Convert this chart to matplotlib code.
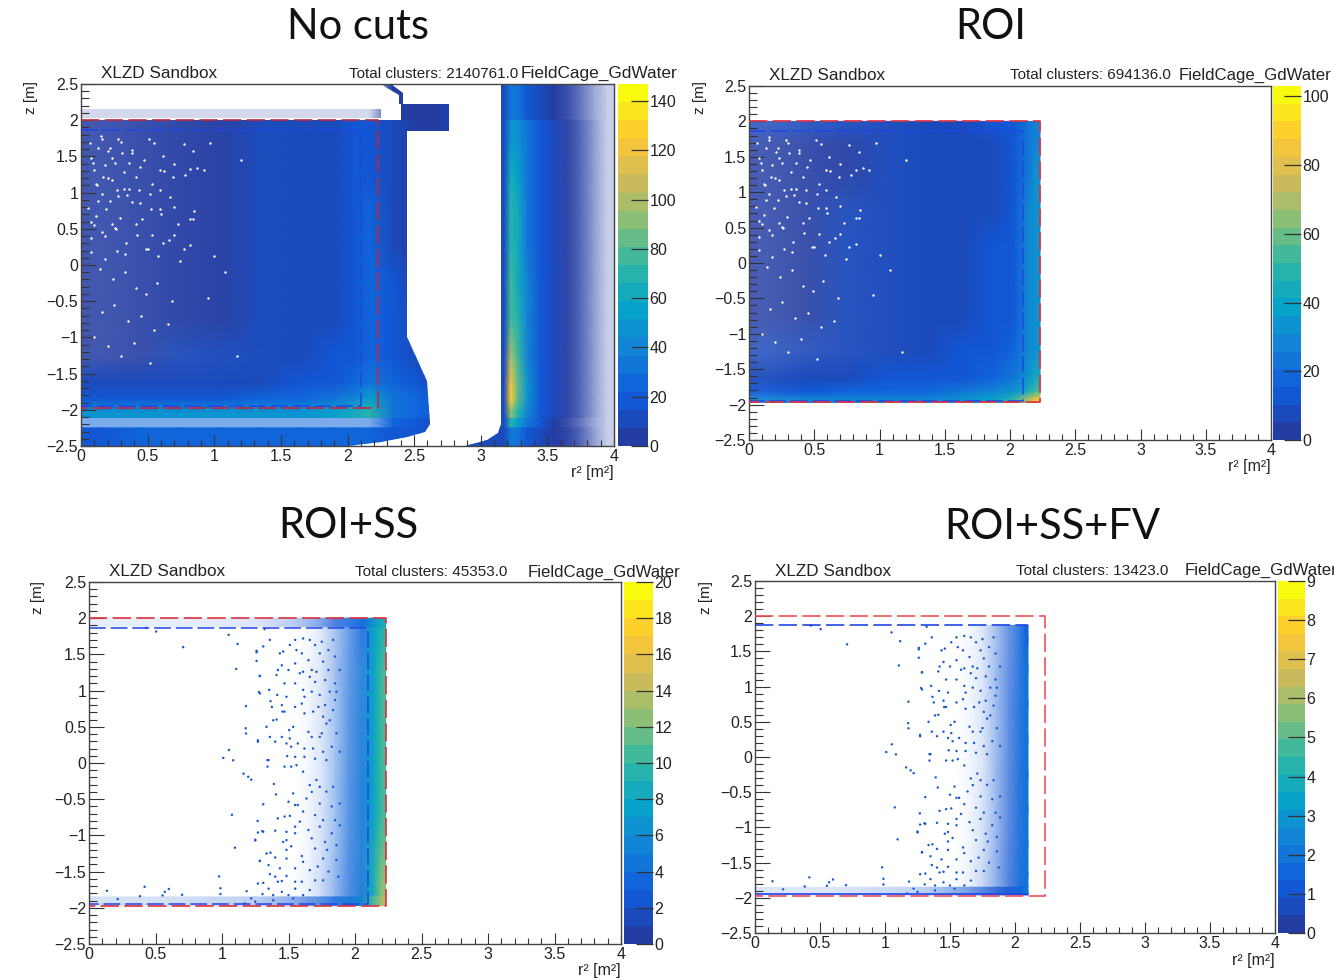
import numpy as np
import matplotlib
matplotlib.use("Agg")
import matplotlib.pyplot as plt
from matplotlib.colors import LinearSegmentedColormap, Normalize
from matplotlib.cm import ScalarMappable
from matplotlib.path import Path
from matplotlib.patches import PathPatch

W, H = 1334, 980
plt.rcParams['font.family'] = ['Liberation Sans', 'DejaVu Sans']
n = np.nan

titles = ["No cuts", "ROI", "ROI+SS", "ROI+SS+FV"]
cluster_texts = ["Total clusters: 2140761.0", "Total clusters: 694136.0",
                 "Total clusters: 45353.0", "Total clusters: 13423.0"]
color_max = [147, 103, 20, 9]
color_ticks = [list(range(0, 141, 20)), list(range(0, 101, 20)),
               list(range(0, 21, 2)), list(range(0, 10))]
x_ticks = [0, .5, 1, 1.5, 2, 2.5, 3, 3.5, 4]
x_labels = ["0", "0.5", "1", "1.5", "2", "2.5", "3", "3.5", "4"]
z_ticks = [-2.5, -2, -1.5, -1, -.5, 0, .5, 1, 1.5, 2, 2.5]
z_labels = ["\u22122.5", "\u22122", "\u22121.5", "\u22121", "\u22120.5", "0", "0.5", "1", "1.5", "2", "2.5"]

# ---- No cuts -----
r1 = [0, .3, .6, .9, 1.2, 1.5, 1.8, 2.0, 2.1, 2.23, 2.45, 2.62, 2.76, 3.15, 3.2, 3.25, 3.3, 3.4, 3.5, 3.6, 3.7, 3.8, 3.9, 4]
z1 = [2.5, 2, 1.5, 1, .5, 0, -.5, -1, -1.5, -1.75, -1.95, -2.12, -2.25, -2.5]
c1 = [
 [3, 3, 3, 3, 3, 3, 3, 3, 3, 6, 7, 6, n, 8, 35, 35, 22, 12, 7, 4, 3, 2, 1],
 [6, 6, 6, 7, 8, 9, 11, 16, 22, 14, 7, 7, n, 8, 45, 50, 32, 16, 8, 4, 3, 2, 1],
 [6, 6, 6, 7, 8, 9, 11, 15, 22, 14, 7, 7, n, 9, 62, 58, 35, 18, 9, 5, 3, 2, 1],
 [6, 6, 7, 7, 8, 9, 11, 15, 23, 14, 7, 7, n, 9, 72, 62, 36, 18, 9, 5, 3, 2, 1],
 [6, 6, 7, 7, 8, 9, 12, 15, 23, 14, 7, 7, n, 9, 70, 62, 36, 18, 9, 5, 3, 2, 1],
 [6, 6, 7, 7, 8, 9, 12, 16, 23, 15, 7, 7, n, 9, 75, 65, 38, 18, 9, 5, 3, 2, 1],
 [6, 6, 7, 7, 8, 10, 12, 17, 24, 16, 8, 7, n, 9, 80, 68, 40, 18, 9, 5, 3, 2, 1],
 [7, 7, 8, 9, 10, 12, 15, 20, 26, 20, 12, 7, n, 10, 100, 75, 42, 20, 9, 5, 3, 2, 1],
 [10, 10, 11, 12, 14, 16, 20, 26, 32, 24, 18, 7, n, 10, 120, 85, 45, 20, 9, 5, 3, 2, 1],
 [20, 20, 21, 22, 24, 28, 34, 42, 55, 30, 24, 18, n, 10, 125, 85, 45, 20, 9, 5, 3, 2, 1],
 [45, 45, 45, 46, 48, 50, 55, 60, 70, 30, 24, 18, n, 10, 95, 70, 38, 18, 8, 5, 3, 2, 1],
 [25, 25, 25, 25, 25, 25, 25, 25, 25, 25, 20, n, n, 10, 70, 55, 30, 15, 7, 4, 2, 2, 1],
 [22, 24, 24, 24, 24, 24, 25, 25, 25, 20, 15, n, n, 8, 30, 30, 18, 10, 5, 3, 2, 1, 1],
]
occ1_top = [.2, .2, .2, .2, .2, .2, .2, .2, .2, 1, 1, 1, 1, 1, 1, 1, 1, 1, 1, .9, .7, .45, .25]
occ1_body = [.86, .9, .94, .97, .99, 1, 1, 1, 1, 1, 1, 1, 1, 1, 1, 1, 1, 1, 1, .95, .78, .5, .25]
occ1_low = [1, 1, 1, 1, 1, 1, 1, 1, 1, 1, 1, 1, 1, 1, 1, 1, 1, 1, 1, .95, .78, .5, .25]
occ1_gap = [.55, .55, .55, .55, .55, .55, .55, .55, .55, 1, 1, 1, 1, 1, 1, 1, 1, 1, 1, .9, .7, .45, .25]
occ1 = [occ1_top] + [occ1_body] * 7 + [occ1_low] * 3 + [occ1_gap, occ1_low]
body_r = [0, 2.4, 2.4, 2.76, 2.76, 2.45, 2.45, 2.6, 2.62, 2.58, 2.45, 2.25, 2.0, 0, 0]
body_z = [2.0, 2.0, 2.22, 2.22, 1.85, 1.85, -1.0, -1.6, -2.2, -2.3, -2.38, -2.45, -2.5, -2.5, 2.0]
neck_r = [2.25, 2.33, 2.42, 2.42, 2.39, 2.39, 2.3, 2.25]
neck_z = [2.5, 2.5, 2.38, 2.22, 2.22, 2.35, 2.44, 2.5]
band_r = [0, 2.25, 2.25, 0, 0]
band_z = [2.03, 2.03, 2.15, 2.15, 2.03]
outer_r = [3.15, 4, 4, 2.88, 3.05, 3.13, 3.15, 3.15]
outer_z = [2.5, 2.5, -2.5, -2.5, -2.42, -2.32, -2.2, 2.5]

# ---- ROI -----
r2 = [0, .3, .6, .9, 1.2, 1.5, 1.8, 1.95, 2.1, 2.17, 2.23]
z2 = [2, 1.87, 1.5, 1, .5, 0, -.5, -1, -1.5, -1.75, -1.88, -1.97]
c2 = [
 [6, 6, 6, 7, 8, 9, 11, 14, 22, 28],
 [5, 5, 5, 6, 7, 8, 10, 13, 25, 30],
 [5, 5, 5, 6, 7, 8, 10, 13, 25, 32],
 [5, 5, 6, 6, 7, 8, 10, 14, 26, 33],
 [5, 5, 6, 6, 7, 8, 11, 14, 26, 33],
 [5, 5, 6, 6, 7, 9, 11, 15, 27, 34],
 [5, 5, 6, 7, 8, 9, 12, 15, 27, 34],
 [6, 6, 7, 8, 9, 11, 14, 18, 28, 36],
 [9, 9, 10, 11, 12, 14, 18, 24, 34, 42],
 [15, 15, 16, 17, 19, 22, 26, 32, 45, 55],
 [26, 26, 27, 28, 30, 34, 40, 50, 72, 85],
]
occ2_body = [.84, .9, .94, .97, 1, 1, 1, 1, 1, 1]
occ2_low = [.95, 1, 1, 1, 1, 1, 1, 1, 1, 1]
occ2 = [occ2_body] * 8 + [occ2_low] * 3

# white holes visible in the two dense panels (r2, z)
hole_r = [.82, .15, .22, .3, .38, .47, .55, .62, .7, .78, .12, .2, .28, .36, .44, .52, .6, .7, .85, .1, .18, .26, .34, .42, .5, .58,
          .66, .74, 1.0, 1.08, .14, .24, .33, .41, .49, .57, .68, .95, .16, .25, .35, .45, .55, .65, 1.17, .1, .2, .3, .4, .52,
          .077, .09, .10, .155, .205, .255, .32, .345, .84, .82, .84, .77, .70, .525, .59, .445, .155, .13, .23, .255, .155, .077,
          .18, .33, .485, .615, .73, .065, .13, .28, .385, .51, .615, .69, .535, .41, .23, .115, .05, .19, .295, .41, .46, .077, .27,
          .535, .665, .385, .59, .92, .87, 1.20, .77, .82, .97, .18, .23, .305, .36, .165, .27, .22, .32, .435, .59, .077, .115]
hole_z = [.64, 1.78, 1.62, 1.7, 1.55, 1.45, 1.68, 1.3, 1.4, 1.25, 1.1, 1.2, .95, 1.05, .85, .98, .7, .8, .75, .55, .4, .5, .3, .42, .22, .12,
          .35, .05, .12, -.1, -.05, -.2, -.1, -.32, -.4, -.25, -.5, -.45, -.65, -.55, -.78, -.7, -.9, -.82, -1.25, -1, -1.12, -1.25, -1.08, -1.35,
          1.48, 1.41, 1.31, 1.74, 1.57, 1.41, 1.29, .96, .64, 1.32, 1.57, 1.67, .415, .77, .77, 1.36, .98, .89, .56, .51, .46, .37,
          .085, .155, .225, .30, .56, 1.69, 1.62, 1.74, 1.595, 1.74, 1.50, 1.22, 1.12, 1.22, 1.17, 1.12, .79, .77, .65, .56, .63, .18, .20,
          .415, .935, .865, 1.31, 1.31, 1.335, 1.45, .225, .275, 1.69, 1.38, 1.48, 1.55, 1.41, 1.22, 1.03, .89, 1.05, 1.03, 1.03, .60, .675]

# ---- ROI+SS -----
r3 = [0, 1.2, 1.3, 1.4, 1.5, 1.6, 1.7, 1.8, 1.9, 2.0, 2.1, 2.17, 2.23]
z3 = [2, 1.87, 1.5, 1, .5, 0, -.5, -1, -1.5, -1.85, -1.97]
c3 = [
 [2, 2, 2, 2, 2, 2, 2, 2, 3, 3, 6, 8],
 [2, 2, 2, 2, 2, 2, 2, 2, 3, 3, 7, 9],
 [2, 2, 2, 2, 2, 2, 2, 2, 3, 4, 7, 10],
 [2, 2, 2, 2, 2, 2, 2, 3, 3, 4, 7, 10],
 [2, 2, 2, 2, 2, 2, 2, 3, 3, 4, 7, 10],
 [2, 2, 2, 2, 2, 2, 2, 3, 3, 4, 7, 10],
 [2, 2, 2, 2, 2, 2, 2, 3, 3, 4, 7, 10],
 [2, 2, 2, 2, 2, 2, 2, 3, 3, 4, 8, 11],
 [2, 2, 2, 2, 2, 2, 2, 3, 3, 4, 8, 12],
 [2, 2, 2, 2, 2, 2, 3, 3, 4, 5, 10, 13],
]
occ3 = [
 [.1, .14, .2, .24, .3, .4, .55, .75, .85, .95, 1, 1],
 [0, 0, 0, 0, 0, .04, .14, .36, .62, .85, 1, 1],
 [0, 0, 0, 0, 0, .05, .15, .38, .64, .86, 1, 1],
 [0, 0, 0, 0, 0, .05, .16, .38, .66, .88, 1, 1],
 [0, 0, 0, 0, 0, .05, .15, .38, .66, .88, 1, 1],
 [0, 0, 0, 0, 0, .05, .15, .4, .68, .9, 1, 1],
 [0, 0, 0, 0, 0, .05, .17, .4, .68, .9, 1, 1],
 [0, 0, 0, 0, 0, .06, .18, .42, .7, .9, 1, 1],
 [0, 0, 0, 0, .02, .08, .22, .46, .72, .92, 1, 1],
 [.18, .28, .35, .42, .5, .6, .72, .85, .95, 1, 1, 1],
]

# ---- ROI+SS+FV -----
r4 = [0, 1.2, 1.3, 1.4, 1.5, 1.6, 1.7, 1.8, 1.9, 2.0, 2.07, 2.1]
z4 = [1.87, 1.5, 1, .5, 0, -.5, -1, -1.5, -1.85, -1.96]
c4 = [
 [1.2, 1.2, 1.2, 1.2, 1.2, 1.2, 1.2, 1.2, 1.3, 1.4, 1.6],
 [1.2, 1.2, 1.2, 1.2, 1.2, 1.2, 1.2, 1.2, 1.3, 1.5, 1.8],
 [1.2, 1.2, 1.2, 1.2, 1.2, 1.2, 1.2, 1.2, 1.3, 1.5, 1.8],
 [1.2, 1.2, 1.2, 1.2, 1.2, 1.2, 1.2, 1.2, 1.3, 1.5, 1.8],
 [1.2, 1.2, 1.2, 1.2, 1.2, 1.2, 1.2, 1.2, 1.3, 1.5, 1.8],
 [1.2, 1.2, 1.2, 1.2, 1.2, 1.2, 1.2, 1.2, 1.3, 1.5, 1.8],
 [1.2, 1.2, 1.2, 1.2, 1.2, 1.2, 1.2, 1.2, 1.3, 1.5, 1.8],
 [1.2, 1.2, 1.2, 1.2, 1.2, 1.2, 1.2, 1.2, 1.3, 1.5, 1.8],
 [1.2, 1.2, 1.2, 1.2, 1.2, 1.2, 1.2, 1.3, 1.3, 1.5, 1.8],
]
occ4 = [
 [0, 0, 0, 0, 0, .04, .14, .36, .62, .85, 1],
 [0, 0, 0, 0, 0, .05, .15, .38, .64, .86, 1],
 [0, 0, 0, 0, 0, .05, .16, .38, .66, .88, 1],
 [0, 0, 0, 0, 0, .05, .15, .38, .66, .88, 1],
 [0, 0, 0, 0, 0, .05, .15, .4, .68, .9, 1],
 [0, 0, 0, 0, 0, .05, .17, .4, .68, .9, 1],
 [0, 0, 0, 0, 0, .06, .18, .42, .7, .9, 1],
 [0, 0, 0, 0, .02, .08, .22, .46, .72, .92, 1],
 [.15, .25, .32, .4, .48, .58, .7, .84, .94, 1, 1],
]

# row ranges that are not blended into each other
segments = [[(0, 1), (1, 11), (11, 12), (12, 13)], [(0, 11)], [(0, 1), (1, 9), (9, 10)], [(0, 8), (8, 9)]]

# isolated clusters shared by the two lowest-count panels (r2, z)
dot_r = [.708, 1.117, 1.107, 1.284, 1.278, 1.18, 1.178, 1.181, 1.27, 1.052, 1.01, 1.084, 1.342, 1.342, 1.162, 1.197, 1.22, 1.39, 1.406, 1.31,
         1.075, 1.268, 1.303, 1.25, 1.097, 1.284, .978, .418, .135, .6, .57, .553, .988, .988, .7, .383, .216, .505, .43, 1.05, 1.32, 1.26,
         1.36, 1.31, 1.26, 1.26, 1.285, 1.285, 1.355, 1.415, 1.485, 1.365, 1.45, 1.47, 1.375, 1.455, 1.385, 1.41, 1.335, 1.45, 1.36, 1.27,
         1.40, 1.49, 1.55, 1.35, 1.52, 1.47, 1.56, 1.505, 1.535, 1.51, 1.52, 1.57, 1.485, 1.62, 1.60, 1.55, 1.62, 1.61, 1.55, 1.47, 1.41,
         1.42, 1.45, 1.50, 1.55, 1.585, 1.61, 1.435, 1.46, 1.51, 1.55, 1.61, 1.60, 1.65, 1.675, 1.71, 1.66, 1.70, 1.675, 1.735, 1.725,
         1.685, 1.65, 1.675, 1.62, 1.685, 1.62, 1.70, 1.735, 1.76, 1.785, 1.75, 1.81, 1.775, 1.835, 1.81, 1.775, 1.85, 1.80, 1.735, 1.76,
         1.70, 1.80, 1.85, 1.75, 1.835, 1.66, 1.56, 1.76, 1.825, 1.785, 1.86, 1.885, 1.85, 1.885, 1.86,
         1.42, 1.47, 1.51, 1.55, 1.50, 1.535, 1.61, 1.66, 1.71, 1.675, 1.635, 1.735, 1.61, 1.57, 1.585, 1.55, 1.70, 1.735, 1.27, 1.31,
         1.25, 1.40, 1.485, 1.55, 1.46, 1.485, 1.52, 1.485, 1.65, 1.675, 1.70, 1.335, 1.365, 1.285, 1.40, 1.485, 1.60, 1.61, 1.55, 1.435,
         1.35, 1.36, 1.40, 1.485, 1.42, 1.45, 1.55, 1.27, 1.31, 1.35, 1.55, 1.60, 1.66, 1.72, 1.76, 1.79, 1.775, 1.825, 1.76, 1.85,
         1.825, 1.785, 1.835, 1.735, 1.185, 1.22, 1.305, 1.385, 1.45, 1.50, 1.535, 1.385, 1.25, 1.17, 1.61, 1.66, 1.70, 1.76, 1.80, 1.86,
         1.86, 1.885, 1.885, 1.875]
dot_z = [1.6, 1.645, 1.3, 1.206, .98, .786, .48, .407, .314, .18, .07, .037, .04, -.05, -.148, -.19, -.23, -.29, -.434, -.57,
         -.716, -.8, -.94, -1.06, -1.17, -1.35, -1.567, -1.71, -1.765, -1.74, -1.78, -1.83, -1.73, -1.81, -1.82, -1.84, -1.88, 1.816, 1.867, 1.77, 1.85, 1.55,
         1.70, 1.61, 1.53, 1.41, 1.20, .96, 1.01, .94, .915, .855, .80, .71, .775, .71, .59, .60, .50, .36, .36, .295,
         .295, .095, .085, .04, -.05, -.05, -.03, .455, .50, .34, .225, .27, .27, .685, .82, .775, .915, 1.01, 1.10, 1.10, 1.215,
         1.285, 1.35, 1.285, 1.375, 1.24, 1.26, 1.515, 1.54, 1.63, 1.70, 1.72, 1.515, 1.42, 1.285, 1.26, 1.19, 1.12, .985, .94, .775,
         .71, .43, .36, .20, .20, .085, .06, .36, .64, .545, .41, .59, .80, .73, .985, 1.145, 1.10, 1.285, 1.515, 1.40,
         1.63, 1.56, 1.47, 1.675, 1.70, 1.70, 1.56, .155, .225, .04, .41, .155, .87, 1.285, .985,
         -.765, -.74, -.73, -.58, -.535, -.42, -.12, -.305, -.235, -.40, -.49, -.56, -.67, -.58, -.81, -.88, -.72, -.88, -.96, -.95,
         -1.07, -.935, -.95, -.97, -1.09, -1.065, -1.15, -1.20, -.925, -1.04, -1.18, -1.25, -1.24, -1.355, -1.305, -1.32, -1.285, -1.365, -1.455, -1.455,
         -1.41, -1.535, -1.57, -1.56, -1.64, -1.63, -1.64, -1.665, -1.655, -1.735, -1.735, -1.64, -1.48, -1.43, -1.32, -1.20, -1.09, -.97, -.79, -.79,
         -.60, -.395, -.33, -.33, -1.77, -1.87, -1.81, -1.825, -1.78, -1.825, -1.87, -1.895, -1.915, -1.94, -1.825, -1.755, -1.62, -1.62, -1.50, -1.34,
         -1.135, -.86, -.56, -1.57]
dot_count = [1.5, 1.5, 2.4, 1.25]

# cut boundaries (r2, z)
roi_r = [0, 2.23, 2.23, 0]
roi_z = [2.0, 2.0, -1.97, -1.97]
fv_r = [0, 2.1, 2.1, 0]
fv_z = [1.87, 1.87, -1.95, -1.95]

# ---- layout (pixels) ----
axes_px = [(81, 614, 84, 446), (749, 1271, 86, 440), (89, 621, 582, 944), (755, 1275, 581, 933)]
cbar_px = [(618, 648), (1273, 1301), (624, 653), (1278, 1305)]
title_px = [(358, 27), (991, 27), (348, 526), (1052, 527)]
sandbox_px = [(101, 74), (769, 75), (109, 572), (775, 571)]
cluster_px = [(349, 74), (1010, 75), (355, 572), (1016, 571)]
cage_px = [(521, 73), (1179, 75), (528, 572), (1185, 570)]
events_px = [(114, 97), (782, 98), (122, 596), (788, 594)]
zlab_px = [(31, 97), (700, 97), (38, 598), (706, 597)]
rlab_px = [(614, 472), (1271, 466), (621, 970), (1275, 960)]

bird_stops = [(0.14, 0.24, 0.64), (0.0592, 0.3599, 0.8684), (0.0780, 0.5041, 0.8385),
              (0.0232, 0.6419, 0.7914), (0.1802, 0.7178, 0.6425), (0.5301, 0.7492, 0.4662),
              (0.8186, 0.7328, 0.3499), (0.9956, 0.7862, 0.1968), (0.9764, 0.9832, 0.0539)]
bird = LinearSegmentedColormap.from_list("bird", bird_stops, N=20)

RED = "#e0303c"
BLUE = "#2045e6"
DARK = "#333333"


def fx(x):
    return x / W


def fy(y):
    return 1 - y / H


def vertex_grid(edges):
    e = np.array(edges, float)
    return np.concatenate([[e[0]], (e[:-1] + e[1:]) / 2, [e[-1]]])


def pad_cells(a):
    return np.pad(a, ((1, 1), (1, 1), (0, 0)), mode="edge")


fig = plt.figure(figsize=(W / 100, H / 100), dpi=100, facecolor="white")


def compound_clip(ax, parts):
    verts, codes = [], []
    for pr, pz in parts:
        pts = list(zip(pr, pz))
        verts += pts + [pts[0]]
        codes += [Path.MOVETO] + [Path.LINETO] * (len(pts) - 1) + [Path.CLOSEPOLY]
    return PathPatch(Path(verts, codes), transform=ax.transData, fc="none", ec="none")


grids = [(r1, z1, c1, occ1), (r2, z2, c2, occ2), (r3, z3, c3, occ3), (r4, z4, c4, occ4)]
for i in range(4):
    L, R, T, B = axes_px[i]
    ax = fig.add_axes([fx(L), fy(B), (R - L) / W, (B - T) / H])
    norm = Normalize(0, color_max[i])
    rr, zz, cc, oo = grids[i]
    cc = np.nan_to_num(np.array(cc, float), nan=8.0)
    oo = np.array(oo, float)[..., None]
    rgb = bird(norm(cc))[..., :3] * oo + (1 - oo)
    clip = None
    if i == 0:
        clip = compound_clip(ax, [(body_r, body_z), (neck_r, neck_z), (band_r, band_z), (outer_r, outer_z)])
        ax.add_patch(clip)
    for a, b in segments[i]:
        X = vertex_grid(rr)
        Y = vertex_grid(zz[a:b + 1])
        mesh = ax.pcolormesh(X, Y, pad_cells(rgb[a:b]), shading="gouraud", rasterized=True)
        if clip is not None:
            mesh.set_clip_path(clip)
    if i < 2:
        hr = np.array(hole_r)
        hz = np.array(hole_z)
        ax.scatter(hr, hz, s=3, c="white", linewidths=0, zorder=2)
    else:
        dr = np.array(dot_r)
        dz = np.array(dot_z)
        keep = (dz <= zz[0]) & (dz >= zz[-1]) & (dr <= rr[-1])
        ax.scatter(dr[keep], dz[keep], s=3, c=[dot_count[i]] * int(keep.sum()), cmap=bird, norm=norm,
                   linewidths=0, zorder=2)

    dash = (11, 3.2)
    if i == 3:
        ax.plot(roi_r, roi_z, color="#f05058", lw=1.2, dashes=dash, zorder=3)
        ax.plot(fv_r[:2], fv_z[:2], color=BLUE, lw=1.2, dashes=dash, zorder=3)
        ax.plot(fv_r[2:], fv_z[2:], color=BLUE, lw=1.2, zorder=3)
    else:
        ax.plot(fv_r, fv_z, color=BLUE, lw=1.1, dashes=dash, zorder=3)
        ax.plot(roi_r, roi_z, color=RED if i else "#c0283c", lw=1.2, dashes=dash, zorder=4)

    ax.set_xlim(0, 4)
    ax.set_ylim(-2.5, 2.5)
    ax.set_xticks(x_ticks)
    ax.set_xticklabels(x_labels, fontsize=11.5, color="#222222")
    ax.set_yticks(z_ticks)
    ax.set_yticklabels(z_labels, fontsize=11.5, color="#222222")
    ax.set_xticks(np.arange(0, 4.01, .1), minor=True)
    ax.set_yticks(np.arange(-2.5, 2.51, .1), minor=True)
    ax.tick_params(axis="x", which="major", direction="in", length=8, width=.8, color=DARK, pad=2)
    ax.tick_params(axis="x", which="minor", direction="in", length=4, width=.8, color=DARK)
    ax.tick_params(axis="y", which="major", direction="in", length=11, width=.8, color=DARK, pad=2)
    ax.tick_params(axis="y", which="minor", direction="in", length=5.5, width=.8, color=DARK)
    for s in ax.spines.values():
        s.set_color("#444444")
        s.set_linewidth(1)
    ax.set_zorder(5)

    CL, CR = cbar_px[i]
    cax = fig.add_axes([fx(CL), fy(B), (CR - CL) / W, (B - T) / H])
    cb = fig.colorbar(ScalarMappable(norm=norm, cmap=bird), cax=cax, ticks=color_ticks[i])
    cb.ax.tick_params(direction="in", length=12, width=.9, color="#333333", labelsize=11.5, pad=1,
                      labelcolor="#222222")
    cb.outline.set_visible(False)

    fig.text(fx(title_px[i][0]), fy(title_px[i][1]), titles[i], fontsize=30, family="Lato",
             ha="center", va="center", color="#111111")
    fig.text(fx(sandbox_px[i][0]), fy(sandbox_px[i][1]), "XLZD Sandbox", fontsize=12.3, ha="left", va="center", color="#222222")
    fig.text(fx(cluster_px[i][0]), fy(cluster_px[i][1]), cluster_texts[i], fontsize=11, ha="left", va="center", color="#222222")
    fig.text(fx(cage_px[i][0]), fy(cage_px[i][1]), "FieldCage_GdWater", fontsize=12.4 if i == 0 else 12.1, ha="left", va="center", color="#222222")
    fig.text(fx(events_px[i][0]), fy(events_px[i][1]), "Events total: 4500000.0", fontsize=11, ha="left", va="center", color="#222222")
    fig.text(fx(zlab_px[i][0]), fy(zlab_px[i][1]), "z [m]", fontsize=11, rotation=90, ha="center", va="center", color="#222222")
    fig.text(fx(rlab_px[i][0]), fy(rlab_px[i][1]), "r\u00b2 [m\u00b2]", fontsize=11.5, ha="right", va="center", color="#222222")

fig.savefig("out.png", dpi=100, facecolor="white")
